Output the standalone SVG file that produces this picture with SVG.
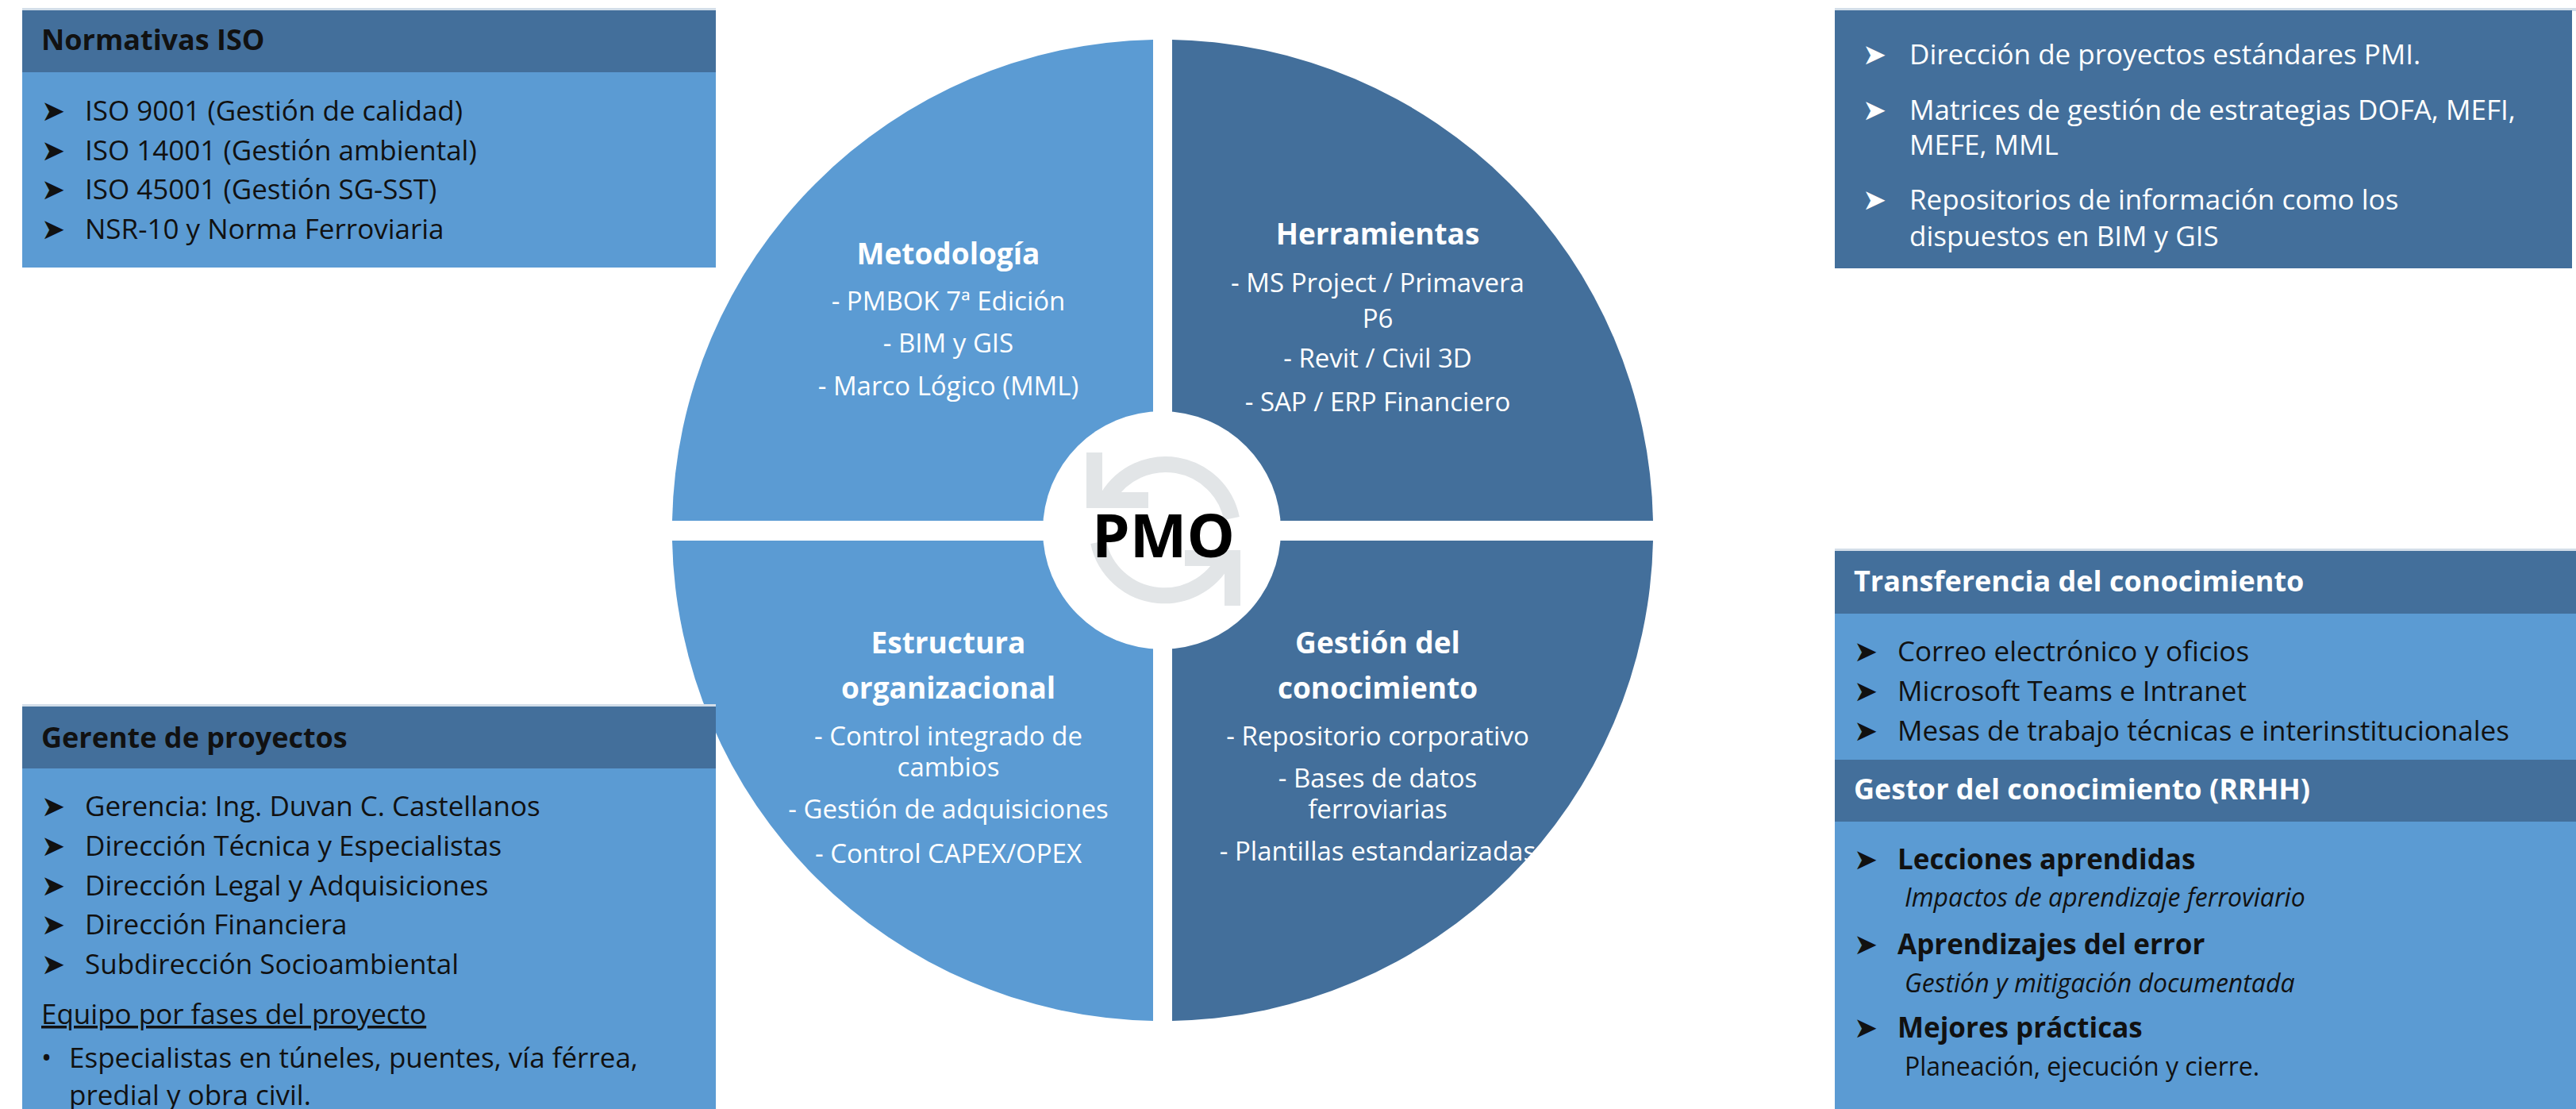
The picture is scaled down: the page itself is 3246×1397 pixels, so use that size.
<svg xmlns="http://www.w3.org/2000/svg" width="3246" height="1397" viewBox="0 0 3246 1397">
<style>
.dark{fill:#436F9B}
.light{fill:#5B9BD3}
.edge{fill:#D3DEE9}
text{font-family:'Open Sans','Liberation Sans',sans-serif}
.h{font-size:36px;font-weight:700}
.it{font-size:35px}
.sub{font-size:32px}
.blk{fill:#111}
.wht{fill:#fff}
.q{font-size:33px;fill:#fff;text-anchor:middle}
.qt{font-size:37px;font-weight:700;fill:#fff;text-anchor:middle}
.ar{font-family:'DejaVu Sans',sans-serif;font-size:36px}
.icon{fill:none;stroke:#E2E5E7;stroke-width:20}
</style>
<rect width="3246" height="1397" fill="#fff"/>

<g id="quadrants">
  <g id="q-metodologia">
    <path class="light" d="M1453,656 L1453,50 A618,618 0 0 0 847,656 Z"/>
    <text class="qt" x="1195" y="333">Metodología</text>
    <text class="q" x="1195" y="391">- PMBOK 7ª Edición</text>
    <text class="q" x="1195" y="444">- BIM y GIS</text>
    <text class="q" x="1195" y="498">- Marco Lógico (MML)</text>
  </g>
  <g id="q-herramientas">
    <path class="dark" d="M1477,656 L1477,50 A618,618 0 0 1 2083,656 Z"/>
    <text class="qt" x="1736" y="308">Herramientas</text>
    <text class="q" x="1736" y="368">- MS Project / Primavera</text>
    <text class="q" x="1736" y="413">P6</text>
    <text class="q" x="1736" y="463">- Revit / Civil 3D</text>
    <text class="q" x="1736" y="518">- SAP / ERP Financiero</text>
  </g>
  <g id="q-estructura">
    <path class="light" d="M1453,681 L1453,1286 A618,618 0 0 1 847,681 Z"/>
    <text class="qt" x="1195" y="823">Estructura</text>
    <text class="qt" x="1195" y="880">organizacional</text>
    <text class="q" x="1195" y="939">- Control integrado de</text>
    <text class="q" x="1195" y="978">cambios</text>
    <text class="q" x="1195" y="1031">- Gestión de adquisiciones</text>
    <text class="q" x="1195" y="1087">- Control CAPEX/OPEX</text>
  </g>
  <g id="q-gestion">
    <path class="dark" d="M1477,681 L2083,681 A618,618 0 0 1 1477,1286 Z"/>
    <text class="qt" x="1736" y="823">Gestión del</text>
    <text class="qt" x="1736" y="880">conocimiento</text>
    <text class="q" x="1736" y="939">- Repositorio corporativo</text>
    <text class="q" x="1736" y="992">- Bases de datos</text>
    <text class="q" x="1736" y="1031">ferroviarias</text>
    <text class="q" x="1736" y="1084">- Plantillas estandarizadas</text>
  </g>
</g>

<g id="pmo">
  <circle cx="1464" cy="668" r="150" fill="#fff"/>
  <path class="icon" d="M1552,653 A85,85 0 0 0 1396,626"/>
  <polyline class="icon" points="1379,570 1379,630 1447,630"/>
  <path class="icon" d="M1384,683 A85,85 0 0 0 1546,697"/>
  <polyline class="icon" points="1493,703 1553,703 1553,763"/>
  <text x="1466" y="702" text-anchor="middle" font-size="76" font-weight="700" fill="#000">PMO</text>
</g>

<g id="normativas">
  <rect class="edge" x="28" y="10" width="874" height="4"/>
  <rect class="dark" x="28" y="13" width="874" height="78"/>
  <rect class="light" x="28" y="91" width="874" height="246"/>
  <text class="h blk" x="52" y="63">Normativas ISO</text>
  <text class="ar blk" x="52" y="152">➤</text><text class="it blk" x="107" y="152">ISO 9001 (Gestión de calidad)</text>
  <text class="ar blk" x="52" y="202">➤</text><text class="it blk" x="107" y="202">ISO 14001 (Gestión ambiental)</text>
  <text class="ar blk" x="52" y="251">➤</text><text class="it blk" x="107" y="251">ISO 45001 (Gestión SG-SST)</text>
  <text class="ar blk" x="52" y="301">➤</text><text class="it blk" x="107" y="301">NSR-10 y Norma Ferroviaria</text>
</g>

<g id="estandares">
  <rect class="edge" x="2312" y="10" width="934" height="4"/>
  <rect class="dark" x="2312" y="13" width="929" height="325"/>
  <text class="ar wht" x="2347" y="81">➤</text><text class="it wht" x="2406" y="81">Dirección de proyectos estándares PMI.</text>
  <text class="ar wht" x="2347" y="151">➤</text><text class="it wht" x="2406" y="151">Matrices de gestión de estrategias DOFA, MEFI,</text>
  <text class="it wht" x="2406" y="195">MEFE, MML</text>
  <text class="ar wht" x="2347" y="264">➤</text><text class="it wht" x="2406" y="264">Repositorios de información como los</text>
  <text class="it wht" x="2406" y="310">dispuestos en BIM y GIS</text>
</g>

<g id="gerente">
  <rect class="edge" x="28" y="887" width="874" height="4"/>
  <rect class="dark" x="28" y="890" width="874" height="78"/>
  <rect class="light" x="28" y="968" width="874" height="429"/>
  <text class="h blk" x="52" y="942">Gerente de proyectos</text>
  <text class="ar blk" x="52" y="1028">➤</text><text class="it blk" x="107" y="1028">Gerencia: Ing. Duvan C. Castellanos</text>
  <text class="ar blk" x="52" y="1078">➤</text><text class="it blk" x="107" y="1078">Dirección Técnica y Especialistas</text>
  <text class="ar blk" x="52" y="1128">➤</text><text class="it blk" x="107" y="1128">Dirección Legal y Adquisiciones</text>
  <text class="ar blk" x="52" y="1177">➤</text><text class="it blk" x="107" y="1177">Dirección Financiera</text>
  <text class="ar blk" x="52" y="1227">➤</text><text class="it blk" x="107" y="1227">Subdirección Socioambiental</text>
  <text class="it blk" x="52" y="1290" text-decoration="underline">Equipo por fases del proyecto</text>
  <text class="it blk" x="52" y="1345">•</text><text class="it blk" x="87" y="1345">Especialistas en túneles, puentes, vía férrea,</text>
  <text class="it blk" x="87" y="1392">predial y obra civil.</text>
</g>

<g id="transferencia">
  <rect class="edge" x="2312" y="691" width="934" height="4"/>
  <rect class="dark" x="2312" y="694" width="934" height="79"/>
  <rect class="light" x="2312" y="773" width="934" height="184"/>
  <text class="h wht" x="2336" y="745">Transferencia del conocimiento</text>
  <text class="ar blk" x="2336" y="833">➤</text><text class="it blk" x="2391" y="833">Correo electrónico y oficios</text>
  <text class="ar blk" x="2336" y="883">➤</text><text class="it blk" x="2391" y="883">Microsoft Teams e Intranet</text>
  <text class="ar blk" x="2336" y="933">➤</text><text class="it blk" x="2391" y="933">Mesas de trabajo técnicas e interinstitucionales</text>
</g>

<g id="gestor">
  <rect class="dark" x="2312" y="957" width="934" height="78"/>
  <rect class="light" x="2312" y="1035" width="934" height="362"/>
  <text class="h wht" x="2336" y="1007">Gestor del conocimiento (RRHH)</text>
  <text class="ar blk" x="2336" y="1095">➤</text><text class="it blk" x="2391" y="1095" font-weight="700">Lecciones aprendidas</text>
  <text class="sub blk" x="2400" y="1142" font-style="italic">Impactos de aprendizaje ferroviario</text>
  <text class="ar blk" x="2336" y="1202">➤</text><text class="it blk" x="2391" y="1202" font-weight="700">Aprendizajes del error</text>
  <text class="sub blk" x="2400" y="1250" font-style="italic">Gestión y mitigación documentada</text>
  <text class="ar blk" x="2336" y="1307">➤</text><text class="it blk" x="2391" y="1307" font-weight="700">Mejores prácticas</text>
  <text class="sub blk" x="2400" y="1355">Planeación, ejecución y cierre.</text>
</g>

<g id="connectors"></g>
</svg>
